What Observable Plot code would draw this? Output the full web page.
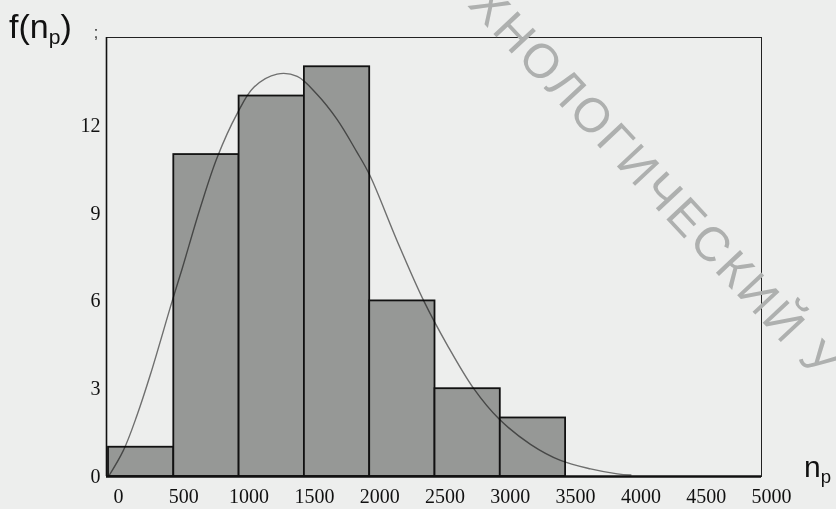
<!DOCTYPE html>
<html>
<head>
<meta charset="utf-8">
<script src="https://cdn.jsdelivr.net/npm/d3@7"></script>
<script src="https://cdn.jsdelivr.net/npm/@observablehq/plot@0.6"></script>
<style>
  html, body { margin: 0; padding: 0; background: #edeeed; overflow: hidden; }
  #wrap { position: relative; width: 836px; height: 509px; overflow: hidden; background: #edeeed; }
  #chart { position: absolute; left: 0; top: 0; }
  .lbl { position: absolute; font-family: "Liberation Sans", Arial, sans-serif; color: #111; white-space: nowrap; line-height: 1; }
  .lbl sub { font-size: 0.62em; vertical-align: baseline; position: relative; top: 0.3em; }
  #wm { position: absolute; left: 496px; top: -22px; transform-origin: 0 0; transform: rotate(47deg);
        font-family: "Liberation Sans", Arial, sans-serif; font-size: 48px; line-height: 48px; letter-spacing: 3px;
        color: #aeb0af; white-space: nowrap; }
</style>
</head>
<body>
<div id="wrap">
  <div id="chart"></div>
  <div id="wm">ХНОЛОГИЧЕСКИЙ У</div>
  <div class="lbl" id="ylab" style="left:9px; top:9px; font-size:34px;">f(n<sub>p</sub>)<span style="font-size:16px; margin-left:22px; color:#333;">;</span></div>
  <div class="lbl" id="xlab" style="left:804px; top:452px; font-size:30px;">n<sub>p</sub></div>
</div>
<script>
// histogram bins (n_p) and counts f(n_p)
const binStart = [0, 500, 1000, 1500, 2000, 2500, 3000];
const binEnd   = [500, 1000, 1500, 2000, 2500, 3000, 3500];
const counts   = [1, 11, 13, 14, 6, 3, 2];

// fitted density curve
const curveX = [0, 115, 219, 322, 488, 564, 704, 832, 985, 1113, 1291, 1445, 1598, 1750, 1900, 2000, 2210, 2414, 2593, 2797, 2989, 3231, 3461, 3691, 3896, 4000];
const curveY = [0, 0.9, 2.1, 3.5, 6.0, 7.1, 9.2, 10.9, 12.4, 13.3, 13.75, 13.67, 13.05, 12.2, 11.1, 10.3, 8.05, 6.0, 4.5, 3.0, 1.97, 1.1, 0.55, 0.26, 0.09, 0.05];

// axis ticks
const xTicks = [0, 500, 1000, 1500, 2000, 2500, 3000, 3500, 4000, 4500, 5000];
const yTicks = [0, 3, 6, 9, 12];

const bins = binStart.map((s, i) => ({x1: s, x2: binEnd[i], y: counts[i]}));
const curve = curveX.map((x, i) => ({x, y: curveY[i]}));

const chart = Plot.plot({
  width: 836,
  height: 509,
  marginLeft: 108,
  marginRight: 75,
  marginTop: 37,
  marginBottom: 33,
  style: { background: "transparent", fontFamily: "'Liberation Serif', 'Times New Roman', serif", fontSize: "20px", color: "#111" },
  x: { domain: [0, 5000] },
  y: { domain: [0, 15] },
  marks: [
    Plot.frame({ stroke: "#222", strokeWidth: 1, insetLeft: -2 }),
    Plot.rectY(bins, { x1: "x1", x2: "x2", y: "y", fill: "#969896", stroke: "#111", strokeWidth: 1.8 }),
    Plot.line(curve, { x: "x", y: "y", curve: "catmull-rom", stroke: "#777", strokeWidth: 1.4, mixBlendMode: "multiply" }),
    Plot.ruleY([0], { stroke: "#111", strokeWidth: 2.5, insetLeft: -2 }),
    Plot.ruleX([0], { stroke: "#111", strokeWidth: 1.6, dx: -2 }),
    Plot.axisY({ ticks: yTicks, tickSize: 0, tickPadding: 8, label: null, tickFormat: d => String(d) }),
    Plot.axisX({ ticks: xTicks, tickSize: 0, tickPadding: 12, dx: 10, label: null, tickFormat: d => String(d) })
  ]
});
document.getElementById("chart").appendChild(chart);
</script>
</body>
</html>
